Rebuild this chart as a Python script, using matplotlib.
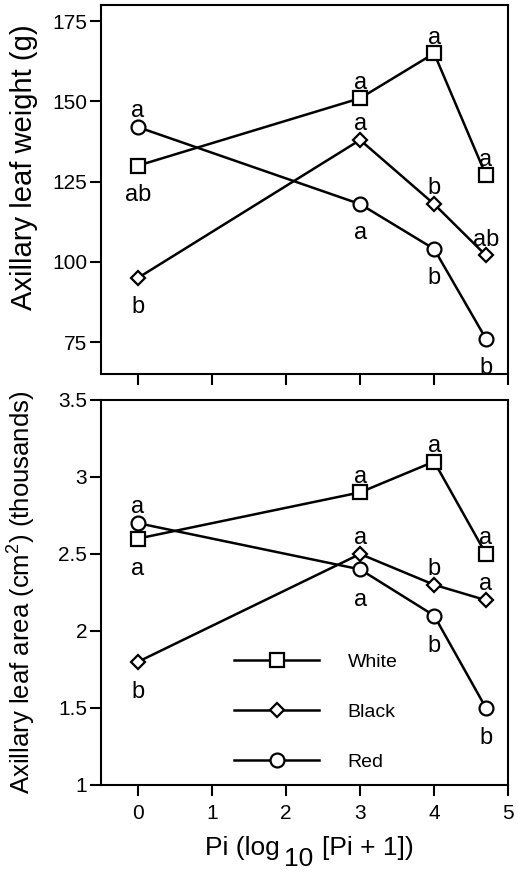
import numpy as np
import matplotlib.pyplot as plt
from matplotlib.lines import Line2D

plt.rcParams['font.family'] = ['Liberation Sans', 'DejaVu Sans']
plt.rcParams['mathtext.fontset'] = 'custom'
plt.rcParams['mathtext.rm'] = 'Liberation Sans'
plt.rcParams['mathtext.it'] = 'Liberation Sans'

#----------------data----------------
pi_x = [0, 3, 4, 4.7]
series = ['White', 'Black', 'Red']
markers = {'White': 's', 'Black': 'D', 'Red': 'o'}
msizes = {'White': 10, 'Black': 7.5, 'Red': 10}

weight = {'White': [130, 151, 165, 127],
          'Black': [95, 138, 118, 102],
          'Red':   [142, 118, 104, 76]}
area = {'White': [2.6, 2.9, 3.1, 2.5],
        'Black': [1.8, 2.5, 2.3, 2.2],
        'Red':   [2.7, 2.4, 2.1, 1.5]}

# significance letters: (letter, above?)
weight_lab = {'White': [('ab', 0), ('a', 1), ('a', 1), ('a', 1)],
              'Black': [('b', 0), ('a', 1), ('b', 1), ('ab', 1)],
              'Red':   [('a', 1), ('a', 0), ('b', 0), ('b', 0)]}
area_lab = {'White': [('a', 0), ('a', 1), ('a', 1), ('a', 1)],
            'Black': [('b', 0), ('a', 1), ('b', 1), ('a', 1)],
            'Red':   [('a', 1), ('a', 0), ('b', 0), ('b', 0)]}

#----------------figure----------------
fig = plt.figure(figsize=(5.18, 8.72), dpi=100)
ax1 = fig.add_axes([0.195, 0.571, 0.786, 0.423])
ax2 = fig.add_axes([0.195, 0.0998, 0.786, 0.4415])


def draw(ax, data, labs, below):
    for s in series:
        ax.plot(pi_x, data[s], color='k', lw=1.8, marker=markers[s],
                ms=msizes[s], mfc='white', mec='k', mew=1.6, zorder=3)
        for x, y, (t, up) in zip(pi_x, data[s], labs[s]):
            if up:
                ax.annotate(t, (x, y), xytext=(0, 7), textcoords='offset points',
                            ha='center', va='baseline', fontsize=17)
            else:
                ax.annotate(t, (x, y), xytext=(0, -below), textcoords='offset points',
                            ha='center', va='top', fontsize=17)
    for sp in ax.spines.values():
        sp.set_linewidth(1.5)
    ax.tick_params(direction='out', length=8, width=1.5, labelsize=15, pad=2)
    ax.set_xlim(-0.5, 5)
    ax.set_xticks([0, 1, 2, 3, 4, 5])


draw(ax1, weight, weight_lab, 13)
ax1.set_ylim(65, 180)
ax1.set_yticks([75, 100, 125, 150, 175])
ax1.tick_params(axis='x', labelbottom=False)
ax1.set_ylabel('Axillary leaf weight (g)', fontsize=21)

draw(ax2, area, area_lab, 14)
ax2.set_ylim(1, 3.5)
ax2.set_yticks([1, 1.5, 2, 2.5, 3, 3.5])
ax2.set_yticklabels(['1', '1.5', '2', '2.5', '3', '3.5'])
ax2.tick_params(axis='x', pad=6)
ax2.set_ylabel('Axillary leaf area (cm$^2$) (thousands)', fontsize=18.5)
ax1.yaxis.set_label_coords(-0.155, 0.562)
ax2.yaxis.set_label_coords(-0.155, 0.5)

# x label in three pieces: full-size lowered "10"
xl_y = 872 - 855
fig.text(280 / 518, xl_y / 872, 'Pi (log', ha='right', va='baseline', fontsize=19)
fig.text(284 / 518, (xl_y - 11) / 872, '10', ha='left', va='baseline', fontsize=19)
fig.text(322 / 518, xl_y / 872, '[Pi + 1])', ha='left', va='baseline', fontsize=19)

handles = [Line2D([], [], color='k', lw=1.8, marker=markers[s],
                  ms=msizes[s], mfc='white', mec='k', mew=1.6) for s in series]
ax2.legend(handles, series, loc='lower left', bbox_to_anchor=(0.283, -0.008),
           frameon=False, handlelength=4.4, labelspacing=1.66,
           handletextpad=1.45, fontsize=14)

fig.savefig('out.png', dpi=100)
